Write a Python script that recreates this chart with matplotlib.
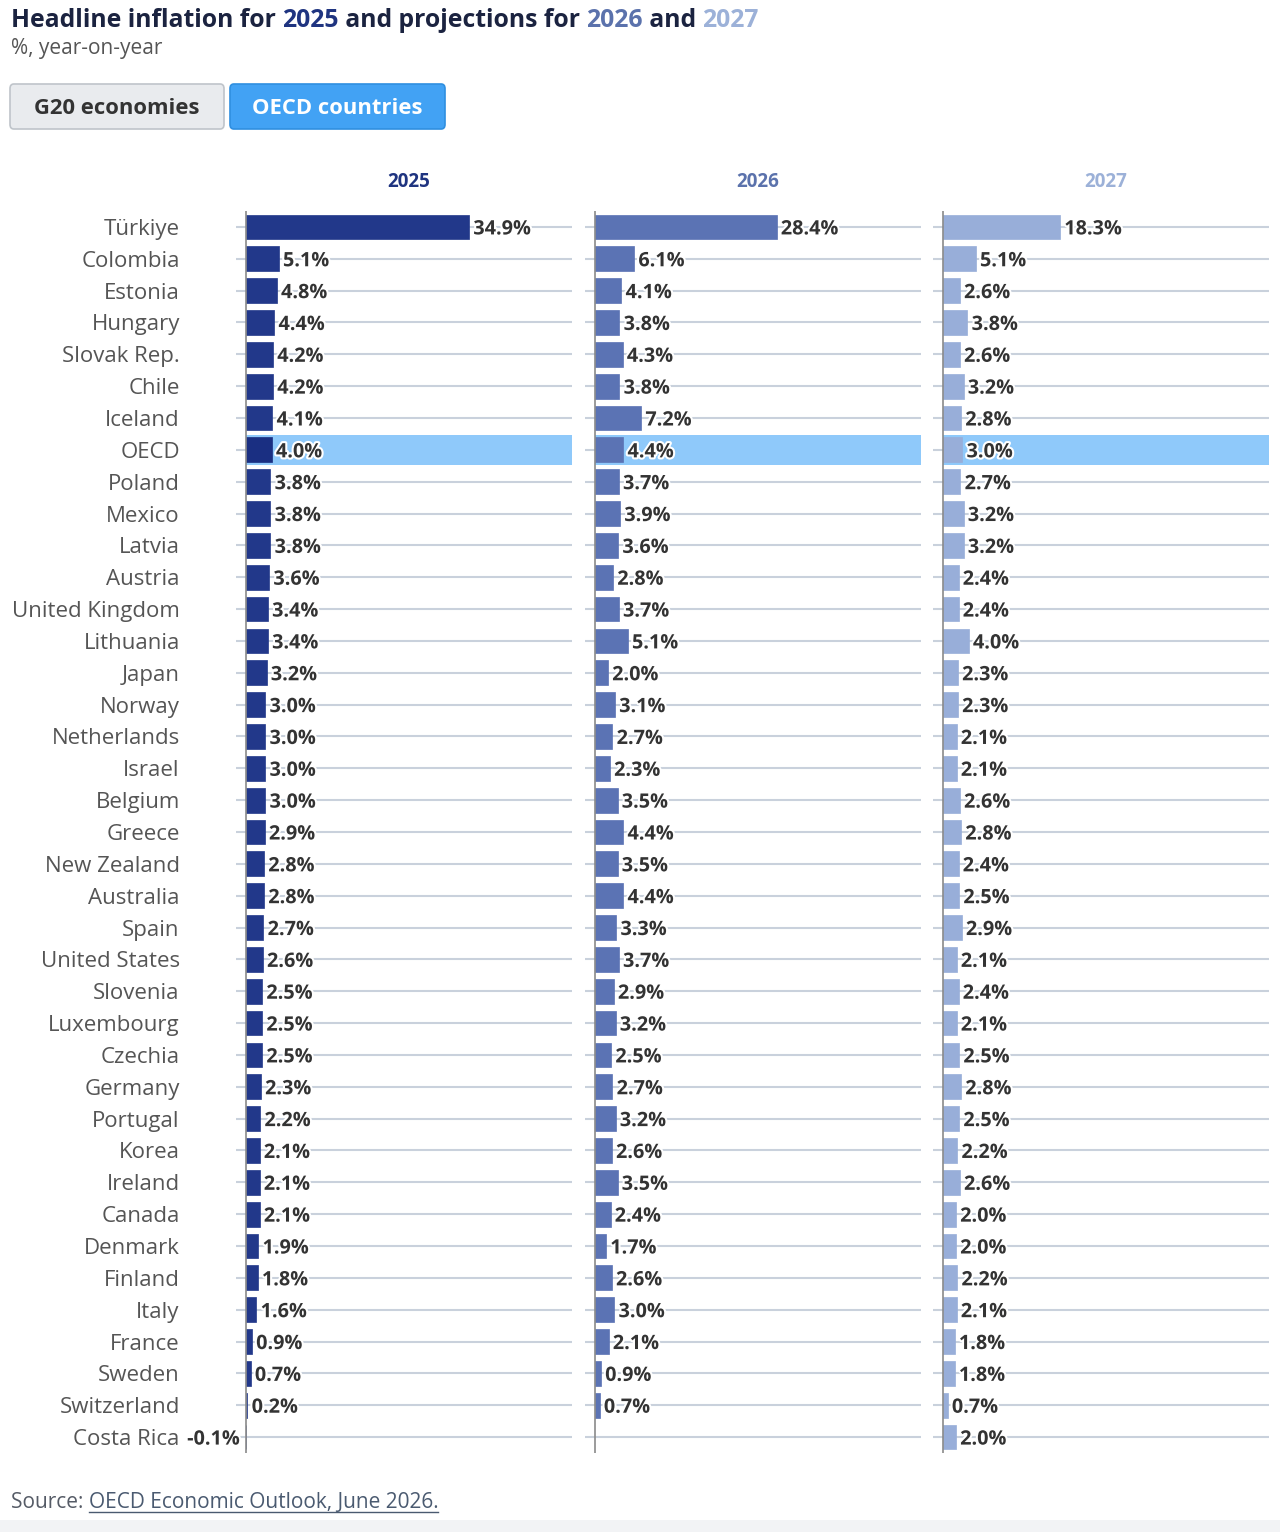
import numpy as np
import matplotlib
matplotlib.use("Agg")
import matplotlib.pyplot as plt
import matplotlib.patheffects as pe
from matplotlib.patches import FancyBboxPatch, Rectangle
from matplotlib.text import Annotation

plt.rcParams['font.family'] = ['Open Sans', 'DejaVu Sans']

countries = ['Türkiye', 'Colombia', 'Estonia', 'Hungary', 'Slovak Rep.', 'Chile', 'Iceland',
             'OECD', 'Poland', 'Mexico', 'Latvia', 'Austria', 'United Kingdom', 'Lithuania',
             'Japan', 'Norway', 'Netherlands', 'Israel', 'Belgium', 'Greece', 'New Zealand',
             'Australia', 'Spain', 'United States', 'Slovenia', 'Luxembourg', 'Czechia',
             'Germany', 'Portugal', 'Korea', 'Ireland', 'Canada', 'Denmark', 'Finland',
             'Italy', 'France', 'Sweden', 'Switzerland', 'Costa Rica']
infl_2025 = [34.9, 5.1, 4.8, 4.4, 4.2, 4.2, 4.1, 4.0, 3.8, 3.8, 3.8, 3.6, 3.4, 3.4, 3.2,
             3.0, 3.0, 3.0, 3.0, 2.9, 2.8, 2.8, 2.7, 2.6, 2.5, 2.5, 2.5, 2.3, 2.2, 2.1,
             2.1, 2.1, 1.9, 1.8, 1.6, 0.9, 0.7, 0.2, -0.1]
infl_2026 = [28.4, 6.1, 4.1, 3.8, 4.3, 3.8, 7.2, 4.4, 3.7, 3.9, 3.6, 2.8, 3.7, 5.1, 2.0,
             3.1, 2.7, 2.3, 3.5, 4.4, 3.5, 4.4, 3.3, 3.7, 2.9, 3.2, 2.5, 2.7, 3.2, 2.6,
             3.5, 2.4, 1.7, 2.6, 3.0, 2.1, 0.9, 0.7, np.nan]
infl_2027 = [18.3, 5.1, 2.6, 3.8, 2.6, 3.2, 2.8, 3.0, 2.7, 3.2, 3.2, 2.4, 2.4, 4.0, 2.3,
             2.3, 2.1, 2.1, 2.6, 2.8, 2.4, 2.5, 2.9, 2.1, 2.4, 2.1, 2.5, 2.8, 2.5, 2.2,
             2.6, 2.0, 2.0, 2.2, 2.1, 1.8, 1.8, 0.7, 2.0]
years = ['2025', '2026', '2027']
colors = ['#22388a', '#5b73b4', '#98aed9']
header_colors = ['#1f3480', '#5b72ac', '#9cb1d8']
highlight = 'OECD'

W, H = 1280, 1532
fig = plt.figure(figsize=(W / 100, H / 100), dpi=100)
fig.patch.set_facecolor('white')

def fx(px):
    return px / W

def fy(py):
    return 1 - py / H

# title, years coloured like the series
title_parts = [('Headline inflation for ', '#1b2340'), ('2025', header_colors[0]),
               (' and projections for ', '#1b2340'), ('2026', header_colors[1]),
               (' and ', '#1b2340'), ('2027', header_colors[2])]
prev = fig.text(fx(11), fy(27), title_parts[0][0], color=title_parts[0][1], fontsize=17.8,
                fontweight='bold', ha='left', va='baseline')
for txt, col in title_parts[1:]:
    prev = fig.add_artist(Annotation(txt, xy=(1, 0), xycoords=prev, color=col,
                                     fontsize=17.8, fontweight='bold', ha='left',
                                     va='bottom'))

fig.text(fx(11), fy(54), '%, year-on-year', color='#555555', fontsize=15, ha='left',
         va='baseline')

# buttons
btns = [('G20 economies', 10, 224, '#e9ebee', '#bfc4ca', '#333333'),
        ('OECD countries', 230, 445, '#42a2f4', '#2f8fe0', 'white')]
for label, x0, x1, fc, ec, tc in btns:
    fig.add_artist(FancyBboxPatch((fx(x0), fy(129)), fx(x1 - x0), (129 - 84) / H,
                                  boxstyle='round,pad=0,rounding_size=0.003',
                                  transform=fig.transFigure, facecolor=fc, edgecolor=ec,
                                  linewidth=1.2))
    fig.text(fx((x0 + x1) / 2), fy(108.5), label, color=tc, fontsize=15.8,
             fontweight='bold', ha='center', va='center')

series = [infl_2025, infl_2026, infl_2027]
panel_left = [236, 585, 933]
ypos = np.arange(len(countries))
hi = countries.index(highlight)
halo = [pe.withStroke(linewidth=3, foreground='white')]

for i, (vals, yr, col) in enumerate(zip(series, years, colors)):
    ax = fig.add_axes([fx(panel_left[i]), fy(1453), fx(336), (1453 - 211) / H])
    ax.set_xlim(-1.6, 51)
    ax.set_ylim(len(countries) - 0.5, -0.5)
    for s in ax.spines.values():
        s.set_visible(False)
    ax.tick_params(left=False, bottom=False, labelbottom=False)
    ax.set_xticks([])
    if i == 0:
        ax.set_yticks(ypos)
        ax.set_yticklabels(countries, fontsize=16, color='#555555')
        ax.tick_params(axis='y', pad=37)
    else:
        ax.set_yticks([])
    for y in ypos:
        ax.axhline(y, color='#c9d1dc', linewidth=1.5, zorder=0)
    ax.add_patch(Rectangle((0, hi - 0.47), 51, 0.94, facecolor='#8fc9fa',
                           edgecolor='none', zorder=1))
    ax.axvline(0, color='#8a8a8a', linewidth=1.2, zorder=3)
    v = np.array(vals, dtype=float)
    bar_cols = [col] * len(v)
    if i == 0:
        bar_cols[hi] = '#1a2f82'
    ax.barh(ypos, v, height=0.78, color=bar_cols, edgecolor=bar_cols, linewidth=0.5,
            zorder=2)
    for y, val in zip(ypos, v):
        if np.isnan(val):
            continue
        off, ha = (3, 'left') if val >= 0 else (-4, 'right')
        ax.annotate(f'{val:.1f}%', xy=(val, y), xytext=(off, -1.8), textcoords='offset points',
                    ha=ha, va='center', fontsize=14.3, fontweight='bold',
                    color='#333333', path_effects=halo, zorder=4, annotation_clip=False)
    ax.text(25.5, -1.4, yr, ha='center', va='center', fontsize=13.5, fontweight='bold',
            color=header_colors[i], clip_on=False)

# source line
src = fig.text(fx(11), fy(1508), 'Source: ', color='#555b66', fontsize=15, ha='left',
               va='baseline')
link = fig.add_artist(Annotation('OECD Economic Outlook, June 2026.', xy=(1, 0),
                                 xycoords=src, color='#4a5a70', fontsize=15,
                                 ha='left', va='bottom'))
fig.canvas.draw()
bb = link.get_window_extent()
fig.add_artist(plt.Line2D([bb.x0 / W, bb.x1 / W], [fy(1512), fy(1512)], color='#4a5a70',
                          linewidth=1, transform=fig.transFigure))
fig.add_artist(Rectangle((0, 0), 1, 12 / H, transform=fig.transFigure,
                         facecolor='#f2f3f5', edgecolor='none'))

fig.savefig('out.png', dpi=100, facecolor='white')
